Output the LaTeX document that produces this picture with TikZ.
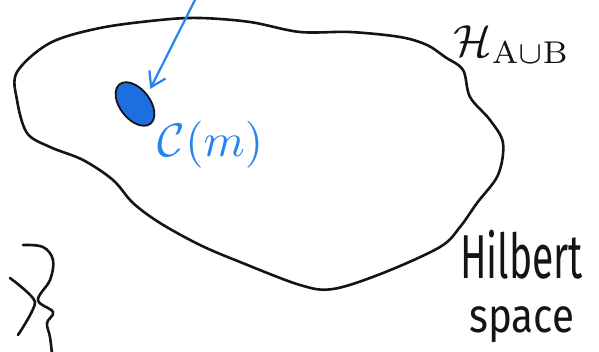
\documentclass[tikz,border=0pt]{standalone}
\usepackage{amsmath}
\usepackage{fontspec}
\usetikzlibrary{shapes.geometric,arrows.meta,positioning}
\newfontfamily\handfont{Fira Sans}
\definecolor{hsblack}{RGB}{20,20,20}
\definecolor{hsblue}{RGB}{38,132,240}
\definecolor{hsdot}{RGB}{30,110,225}

\begin{document}
\begin{tikzpicture}[
  x=1pt, y=-1pt,
  stroke/.style={draw=hsblack, line width=2.6pt, line cap=round, line join=round},
  bluearrow/.style={-{Straight Barb[length=14pt,width=18pt]}, hsblue, line width=2.2pt},
  bluelabel/.style={text=hsblue, inner sep=0pt, scale=4.7},
  handlabel/.style={text=hsblack, inner sep=0pt, font=\handfont\fontsize{62}{62}\selectfont}
]
\useasboundingbox (0,0) rectangle (599,352);

% Region of the joint Hilbert space
\draw[stroke] plot[smooth cycle, tension=0.55] coordinates {
  (17,72) (50,43) (100,28) (160,20) (200,18) (250,22) (300,32) (350,32)
  (400,37) (427,45) (445,57) (463,70) (470,97) (490,120) (503,143) (498,175)
  (477,203) (460,227) (440,247) (383,273) (333,289) (300,285) (240,262)
  (200,245) (160,223) (133,203) (113,180) (83,160) (50,147) (27,133) (17,100)};

% The point C(m)
\node[ellipse, draw=hsblack, line width=1.8pt, fill=hsdot, minimum width=50pt,
  minimum height=30pt, inner sep=0pt, rotate=-52] (cm) at (135,104) {};
\coordinate (src) at (197,-4);
\draw[bluearrow, shorten >=6pt] (src) -- (cm.north);
\node[bluelabel, anchor=base west] (cmlabel) at (157,157) {$\mathcal{C}(m)$};

% Labels
\node[text=hsblack, inner sep=0pt, scale=4.5, anchor=base west]
  (hlabel) at (453,57) {$\mathcal{H}_{\mathrm{A\cup B}}$};
\node[handlabel, anchor=base west] (hilbert) at (460,279) {\scalebox{0.63}[1]{Hilbert}};
\node[handlabel, font=\handfont\fontsize{48}{48}\selectfont, anchor=base west]
  (space) at (469,332) {\scalebox{0.84}[1]{space}};

% Cut-off stroke at the lower left
\draw[stroke] plot[smooth, tension=0.6] coordinates {
  (23,245) (43,247) (53,260) (50,280) (38,300) (53,312) (47,323) (50,337) (52,354)};
\draw[stroke] plot[smooth, tension=0.4] coordinates {(10,278) (35,302) (18,335)};

\end{tikzpicture}
\end{document}
